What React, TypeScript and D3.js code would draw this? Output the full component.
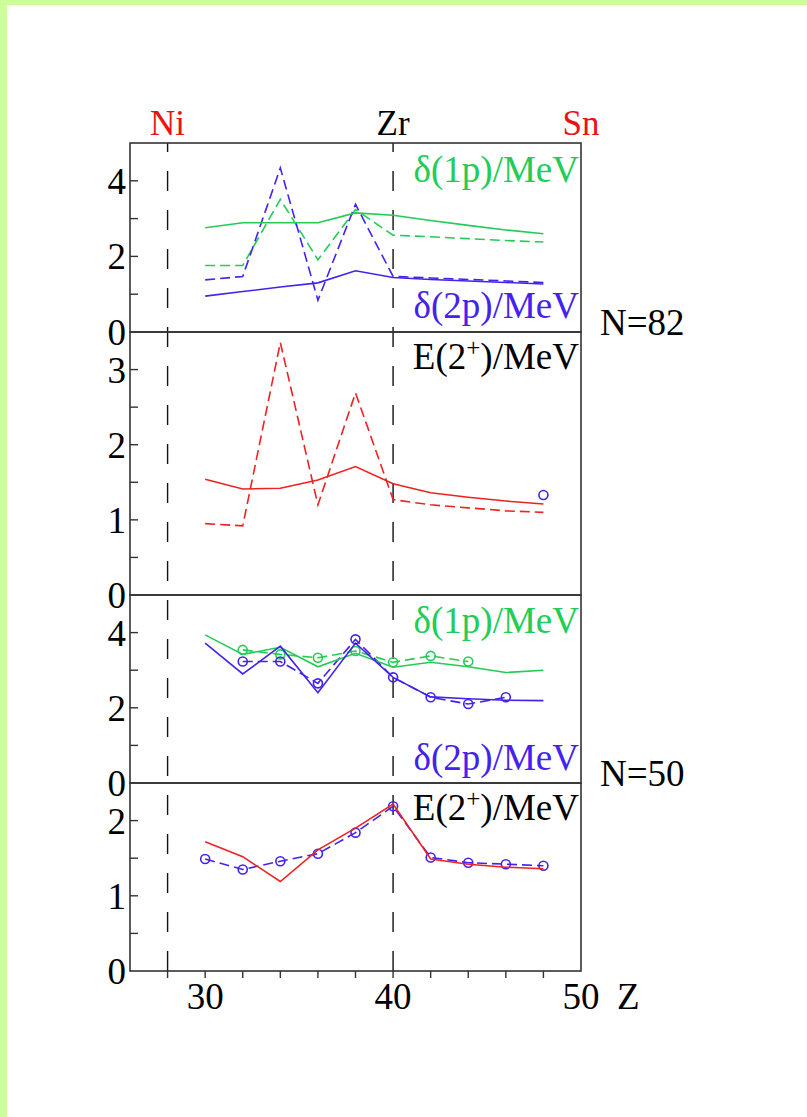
import React from "react";
import * as d3 from "d3";

// proton number Z
const zs = [30, 32, 34, 36, 38, 40, 42, 44, 46, 48];

// N=82 chain
const n82D1pCalc = [2.76, 2.89, 2.89, 2.89, 3.15, 3.09, 2.95, 2.82, 2.7, 2.6];
const n82D1pAlt = [1.76, 1.76, 3.51, 1.91, 3.24, 2.56, 2.52, 2.47, 2.42, 2.38];
const n82D2pCalc = [0.95, 1.07, 1.19, 1.3, 1.62, 1.44, 1.39, 1.35, 1.31, 1.27];
const n82D2pAlt = [1.38, 1.47, 4.34, 0.84, 3.38, 1.47, 1.43, 1.39, 1.35, 1.31];
const n82E2Calc = [1.54, 1.41, 1.42, 1.53, 1.71, 1.48, 1.36, 1.3, 1.25, 1.21];
const n82E2Alt = [0.95, 0.92, 3.36, 1.2, 2.69, 1.27, 1.2, 1.16, 1.12, 1.1];
const n82E2ExpZ = [48];
const n82E2Exp = [1.33];

// N=50 chain
const n50D1pCalc = [3.94, 3.42, 3.61, 3.09, 3.45, 3.08, 3.21, 3.09, 2.94, 3.0];
const n50D1pExpZ = [32, 34, 36, 38, 40, 42, 44];
const n50D1pExp = [3.54, 3.42, 3.33, 3.51, 3.21, 3.38, 3.23];
const n50D2pCalc = [3.72, 2.9, 3.64, 2.4, 3.72, 2.81, 2.29, 2.24, 2.2, 2.19];
const n50D2pExpZ = [32, 34, 36, 38, 40, 42, 44, 46];
const n50D2pExp = [3.23, 3.23, 2.65, 3.82, 2.81, 2.28, 2.1, 2.28];
const n50E2Calc = [1.72, 1.52, 1.19, 1.61, 1.9, 2.22, 1.49, 1.42, 1.38, 1.36];
const n50E2Exp = [1.49, 1.35, 1.46, 1.56, 1.84, 2.19, 1.51, 1.44, 1.42, 1.4];

const xTicks = [28, 30, 32, 34, 36, 38, 40, 42, 44, 46, 48];
const xLabels = [30, 40, 50];
const magic = [
  { z: 28, name: "Ni", color: "#ee1111" },
  { z: 40, name: "Zr", color: "#000" },
  { z: 50, name: "Sn", color: "#ee1111" },
];

const GREEN = "#22cc55";
const BLUE = "#4422ee";
const RED = "#ee2222";
const FONT = "'Liberation Serif', 'DejaVu Serif', serif";

type Series = { x: number[]; y: number[]; color: string; dash?: boolean; circles?: boolean; noLine?: boolean };
type Panel = {
  top: number;
  bottom: number;
  max: number;
  ticks: number[];
  labels: number[];
  series: Series[];
  texts: { t: React.ReactNode; color: string; y: number }[];
};

const e2Label = (
  <>
    E(2<tspan dy={-13} fontSize={25}>+</tspan>
    <tspan dy={13}>)/MeV</tspan>
  </>
);

const panels: Panel[] = [
  {
    top: 143, bottom: 332, max: 5, ticks: [1, 2, 3, 4], labels: [0, 2, 4],
    series: [
      { x: zs, y: n82D1pAlt, color: GREEN, dash: true },
      { x: zs, y: n82D2pAlt, color: BLUE, dash: true },
      { x: zs, y: n82D1pCalc, color: GREEN },
      { x: zs, y: n82D2pCalc, color: BLUE },
    ],
    texts: [
      { t: "δ(1p)/MeV", color: GREEN, y: 182 },
      { t: "δ(2p)/MeV", color: BLUE, y: 318 },
    ],
  },
  {
    top: 332, bottom: 595, max: 3.5, ticks: [0.5, 1, 1.5, 2, 2.5, 3], labels: [0, 1, 2, 3],
    series: [
      { x: zs, y: n82E2Alt, color: RED, dash: true },
      { x: zs, y: n82E2Calc, color: RED },
      { x: n82E2ExpZ, y: n82E2Exp, color: BLUE, circles: true, noLine: true },
    ],
    texts: [{ t: e2Label, color: "#000", y: 369 }],
  },
  {
    top: 595, bottom: 783, max: 5, ticks: [1, 2, 3, 4], labels: [0, 2, 4],
    series: [
      { x: n50D1pExpZ, y: n50D1pExp, color: GREEN, dash: true, circles: true },
      { x: n50D2pExpZ, y: n50D2pExp, color: BLUE, dash: true, circles: true },
      { x: zs, y: n50D1pCalc, color: GREEN },
      { x: zs, y: n50D2pCalc, color: BLUE },
    ],
    texts: [
      { t: "δ(1p)/MeV", color: GREEN, y: 633 },
      { t: "δ(2p)/MeV", color: BLUE, y: 770 },
    ],
  },
  {
    top: 783, bottom: 971, max: 2.5, ticks: [0.5, 1, 1.5, 2], labels: [0, 1, 2],
    series: [
      { x: zs, y: n50E2Exp, color: BLUE, dash: true, circles: true },
      { x: zs, y: n50E2Calc, color: RED },
    ],
    texts: [{ t: e2Label, color: "#000", y: 820 }],
  },
];

const x = d3.scaleLinear().domain([26, 50]).range([130, 581]);

export default function App() {
  const left = x.range()[0];
  const right = x.range()[1];
  const top = panels[0].top;
  const bottom = panels[panels.length - 1].bottom;

  return (
    <svg width={807} height={1117} style={{ position: "absolute", left: 0, top: 0, background: "#fff" }} fontFamily={FONT}>
      <rect x={0} y={0} width={807} height={5} fill="#ccff99" />
      <rect x={0} y={0} width={7} height={1117} fill="#ccff99" />

      {/* magic number markers */}
      {magic.map((m) => (
        <text key={m.name} x={x(m.z)} y={135} textAnchor="middle" fontSize={35} fill={m.color}>
          {m.name}
        </text>
      ))}
      {magic.filter((m) => m.z < 50).map((m) => (
        <line key={"v" + m.z} x1={x(m.z)} x2={x(m.z)} y1={bottom} y2={top} stroke="#111" strokeWidth={1.4} strokeDasharray="20,19" />
      ))}

      {panels.map((p, i) => {
        const y = d3.scaleLinear().domain([0, p.max]).range([p.bottom, p.top]);
        return (
          <g key={i}>
            {p.series.map((s, j) => {
              const pts = s.x.map((z, k) => [x(z), y(s.y[k])] as [number, number]);
              const line = d3.line();
              return (
                <g key={j}>
                  {!s.noLine && (
                    <path d={line(pts) || ""} fill="none" stroke={s.color} strokeWidth={1.6} strokeDasharray={s.dash ? "10,5" : undefined} />
                  )}
                  {s.circles && pts.map((pt, k) => (
                    <circle key={k} cx={pt[0]} cy={pt[1]} r={4.5} fill="none" stroke={s.color} strokeWidth={1.6} />
                  ))}
                </g>
              );
            })}
            {p.ticks.map((t) => (
              <line key={"t" + t} x1={left} x2={left + 8} y1={y(t)} y2={y(t)} stroke="#333" strokeWidth={1.4} />
            ))}
            {p.labels.map((t) => (
              <text key={"l" + t} x={126} y={y(t)} dy="0.35em" textAnchor="end" fontSize={37}>
                {t}
              </text>
            ))}
            {p.texts.map((tx, k) => (
              <text key={"x" + k} x={579} y={tx.y} textAnchor="end" fontSize={37} fill={tx.color}>
                {tx.t}
              </text>
            ))}
            <rect x={left} y={p.top} width={right - left} height={p.bottom - p.top} fill="none" stroke="#333" strokeWidth={1.6} />
          </g>
        );
      })}

      <text x={600} y={335} fontSize={37}>N=82</text>
      <text x={600} y={786} fontSize={37}>N=50</text>

      {xTicks.map((t) => (
        <line key={t} x1={x(t)} x2={x(t)} y1={bottom} y2={bottom + 7} stroke="#333" strokeWidth={1.4} />
      ))}
      {xLabels.map((t) => (
        <text key={t} x={x(t)} y={1009} textAnchor="middle" fontSize={37}>
          {t}
        </text>
      ))}
      <text x={617} y={1009} fontSize={37}>Z</text>
    </svg>
  );
}
